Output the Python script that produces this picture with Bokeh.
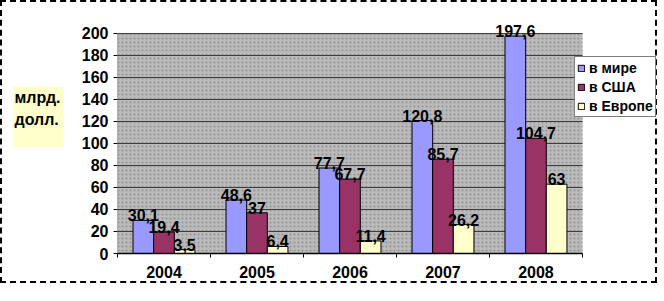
from bokeh.plotting import figure
from bokeh.models import (ColumnDataSource, Range1d, FixedTicker, LabelSet, Legend,
                          LegendItem, Label)
from bokeh.core.properties import value
from bokeh.transform import dodge
from bokeh.embed import file_html
from bokeh.resources import INLINE

years = ["2004", "2005", "2006", "2007", "2008"]
world = [30.1, 48.6, 77.7, 120.8, 197.6]
usa = [19.4, 37.0, 67.7, 85.7, 104.7]
europe = [3.5, 6.4, 11.4, 26.2, 63.0]
world_lbl = ["30,1", "48,6", "77,7", "120,8", "197,6"]
usa_lbl = ["19,4", "37", "67,7", "85,7", "104,7"]
europe_lbl = ["3,5", "6,4", "11,4", "26,2", "63"]
series_names = ["в мире", "в США", "в Европе"]
y_title = "млрд.\nдолл."
y_ticks = list(range(0, 201, 20))
y_max = 200

FONT = "Liberation Sans"
n = len(years)
pos = [i + 0.5 for i in range(n)]
src = ColumnDataSource(dict(x=pos, world=world, usa=usa, europe=europe,
                            wl=world_lbl, ul=usa_lbl, el=europe_lbl))

W, H = 657, 283
p = figure(width=W, height=H, output_backend="svg", toolbar_location=None,
           x_range=Range1d(0, 5.796), y_range=Range1d(0, 215.45),
           min_border_left=117, min_border_right=1, min_border_top=16, min_border_bottom=30)
p.background_fill_color = "white"
p.background_fill_alpha = 0
p.border_fill_color = "white"
p.border_fill_alpha = 0
p.outline_line_color = None
p.styles = {"outline": "2px dashed black", "outline-offset": "-2px"}

# plot area (0..200) and its gridlines
p.quad(left=[0], right=[n], bottom=[0], top=[y_max], fill_color="#bababa",
       line_color=None, hatch_pattern="dot", hatch_color="#8a8a8a",
       hatch_scale=4, hatch_alpha=0.8, level="underlay")
p.segment(x0=[0] * len(y_ticks), x1=[n] * len(y_ticks), y0=y_ticks, y1=y_ticks,
          line_color="#3c3c3c", line_width=1, level="underlay")
p.xgrid.grid_line_color = None
p.ygrid.grid_line_color = None

bw = 0.222
cols = ["#9999ff", "#993366", "#ffffcc"]
r1 = p.vbar(x=dodge("x", -bw, range=p.x_range), top="world", width=bw, source=src,
            fill_color=cols[0], line_color="black", line_width=1)
r2 = p.vbar(x="x", top="usa", width=bw, source=src,
            fill_color=cols[1], line_color="black", line_width=1)
r3 = p.vbar(x=dodge("x", bw, range=p.x_range), top="europe", width=bw, source=src,
            fill_color=cols[2], line_color="black", line_width=1)

for xf, yf, tf in [(dodge("x", -bw, range=p.x_range), "world", "wl"),
                   ("x", "usa", "ul"),
                   (dodge("x", bw, range=p.x_range), "europe", "el")]:
    p.add_layout(LabelSet(x=xf, y=yf, text=tf, source=src, text_align="center",
                          text_baseline="bottom", y_offset=-1, text_font=value(FONT),
                          text_font_style="bold", text_font_size="16px", text_color="black"))

# axes
p.yaxis.ticker = FixedTicker(ticks=y_ticks)
p.yaxis.bounds = (0, y_max)
p.yaxis.axis_line_color = "#707070"
p.yaxis.axis_line_dash = "1 1"
p.yaxis.major_tick_out = 4
p.yaxis.major_tick_in = 0
p.yaxis.minor_tick_line_color = None
p.yaxis.major_label_text_font = FONT
p.yaxis.major_label_text_font_style = "bold"
p.yaxis.major_label_text_font_size = "16px"
p.yaxis.major_label_text_color = "black"
p.yaxis.major_label_standoff = 5

p.xaxis.ticker = FixedTicker(ticks=pos, minor_ticks=list(range(n + 1)))
p.xaxis.bounds = (0, n)
p.xaxis.major_label_overrides = {pp: y for pp, y in zip(pos, years)}
p.xaxis.major_tick_line_color = None
p.xaxis.minor_tick_out = 4
p.xaxis.minor_tick_in = 0
p.xaxis.minor_tick_line_color = "black"
p.xaxis.axis_line_color = "black"
p.xaxis.axis_line_width = 1.5
p.xaxis.major_label_text_font = FONT
p.xaxis.major_label_text_font_style = "bold"
p.xaxis.major_label_text_font_size = "16px"
p.xaxis.major_label_text_color = "black"
p.xaxis.major_label_standoff = 6

# legend inside the (extended) frame
legend = Legend(items=[LegendItem(label=series_names[0], renderers=[r1]),
                       LegendItem(label=series_names[1], renderers=[r2]),
                       LegendItem(label=series_names[2], renderers=[r3])],
                location=(457, 136), orientation="vertical",
                label_text_font=FONT, label_text_font_style="bold", label_text_font_size="14px",
                label_text_color="black", glyph_width=8, glyph_height=8, label_height=17,
                label_standoff=4, spacing=2, padding=2, margin=0,
                border_line_color="black", border_line_width=1, background_fill_color="white",
                background_fill_alpha=1)
p.add_layout(legend, "center")

# y title with yellow box (left panel, canvas units)
p.add_layout(Label(x=13, y=86, x_units="canvas", y_units="canvas", text=y_title,
                   text_font=FONT, text_font_style="bold", text_font_size="16px",
                   text_line_height=1.3, text_align="left", text_baseline="top",
                   text_color="black", background_fill_color="#ffffcc",
                   background_fill_alpha=1,
                   padding=dict(left=1, right=3, top=2, bottom=20)), "left")

open("out.html", "w").write(file_html(p, INLINE))
